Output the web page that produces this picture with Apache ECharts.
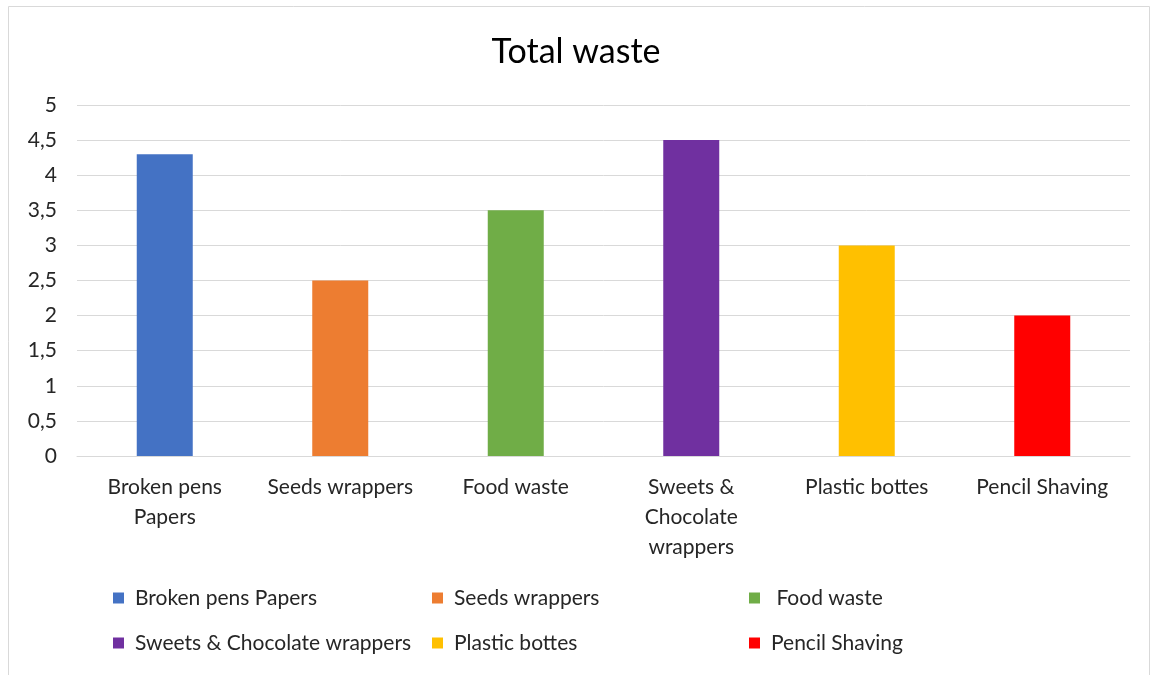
<!DOCTYPE html>
<html><head><meta charset="utf-8">
<script src="https://cdn.jsdelivr.net/npm/echarts@6/dist/echarts.min.js"></script>
<style>html,body{margin:0;padding:0;background:#fff}#c{width:1152px;height:675px}</style>
</head><body><div id="c"></div>
<script>
const categories = ["Broken pens\nPapers", "Seeds wrappers", "Food waste", "Sweets &\nChocolate\nwrappers", "Plastic bottes", "Pencil Shaving"];
const legendNames = ["Broken pens Papers", "Seeds wrappers", " Food waste", "Sweets & Chocolate wrappers", "Plastic bottes", "Pencil Shaving"];
const values = [4.3, 2.5, 3.5, 4.5, 3, 2];
const colors = ["#4472C4", "#ED7D31", "#70AD47", "#7030A0", "#FFC000", "#FF0000"];
const yTicks = { min: 0, max: 5, interval: 0.5 };

const FONT = "Lato, 'Open Sans', sans-serif";
const series = values.map((v, i) => ({
  name: legendNames[i],
  type: 'bar',
  stack: 'all',
  barWidth: 56,
  itemStyle: { color: colors[i] },
  data: values.map((_, j) => j === i ? v : '-')
}));

const legendCols = [[0, 3], [1, 4], [2, 5]];
const legendLefts = [113, 432, 749];
const legends = legendCols.map((idx, k) => ({
  orient: 'vertical',
  left: legendLefts[k],
  top: 586,
  padding: 0,
  itemGap: 21,
  itemWidth: 11,
  itemHeight: 11,
  icon: 'rect',
  selectedMode: false,
  textStyle: { fontFamily: FONT, fontSize: 21, lineHeight: 24, color: '#262626', padding: [0, 0, 0, 6] },
  data: idx.map(i => legendNames[i])
}));

const chart = echarts.init(document.getElementById('c'));
chart.setOption({
  animation: false,
  backgroundColor: '#fff',
  title: {
    text: 'Total waste', left: 'center', top: 30,
    textStyle: { fontFamily: FONT, fontSize: 34, fontWeight: 'normal', color: '#000' }
  },
  graphic: [{ type: 'rect', shape: { x: 8.5, y: 6.5, width: 1141, height: 675 }, style: { fill: 'none', stroke: '#d9d9d9', lineWidth: 1 }, silent: true }],
  legend: legends,
  grid: { left: 77, right: 22, top: 105, bottom: 219 },
  xAxis: {
    type: 'category', data: categories,
    axisLine: { lineStyle: { color: '#d9d9d9', width: 1 } },
    axisTick: { show: false },
    axisLabel: { fontFamily: FONT, fontSize: 21, color: '#262626', margin: 16, lineHeight: 30, interval: 0 }
  },
  yAxis: {
    type: 'value', min: yTicks.min, max: yTicks.max, interval: yTicks.interval,
    axisLine: { show: false }, axisTick: { show: false },
    splitLine: { lineStyle: { color: '#d9d9d9', width: 1 } },
    axisLabel: { fontFamily: FONT, fontSize: 21, color: '#262626', margin: 20,
      formatter: v => String(v).replace('.', ',') }
  },
  series: series
});
</script></body></html>
